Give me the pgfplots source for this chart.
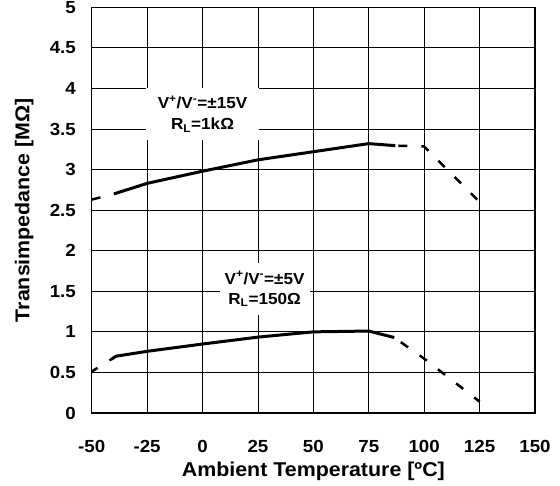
\documentclass[border=0pt]{standalone}
\usepackage{fontspec}
\setmainfont{Liberation Sans}[FakeStretch=1.07]
\usepackage{pgfplots}
\pgfplotsset{compat=1.18}
\begin{document}
\begin{tikzpicture}
\begin{axis}[
  scale only axis,
  width=443.3pt, height=405.7pt,
  at={(0,0)}, anchor=south west,
  xmin=-50, xmax=150, ymin=0, ymax=5,
  xtick={-50,-25,0,25,50,75,100,125,150},
  xticklabels={-50,-25,0,25,50,75,100,125,150},
  ytick={0,0.5,1,1.5,2,2.5,3,3.5,4,4.5,5},
  yticklabels={0,0.5,1,1.5,2,2.5,3,3.5,4,4.5,5},
  major tick length=0pt,
  grid=major,
  major grid style={black, line width=0.8pt},
  axis line style={black, line width=1.2pt},
  every tick label/.append style={font=\bfseries\fontsize{17.5}{20}\selectfont},
  xticklabel style={anchor=base, yshift=-39.3pt, inner sep=0pt},
  yticklabel style={anchor=east, xshift=-15.7pt, inner sep=0pt},
  xlabel={Ambient Temperature [ºC]},
  ylabel={Transimpedance [MΩ]},
  label style={font=\bfseries\fontsize{20}{24}\selectfont},
  xlabel style={at={(axis description cs:0.5,-0.1553)}, anchor=base, inner sep=0pt},
  ylabel style={at={(axis description cs:-0.1408,0.5)}, anchor=base, rotate=0, inner sep=0pt},
]
% upper curve
\addplot[black, line width=2.5pt, dash pattern=on 9pt off 14pt] coordinates {(-50,2.63) (-40,2.70)};
\addplot[black, line width=3pt] coordinates {(-40,2.70) (-25,2.83) (0,2.98) (25,3.12) (50,3.22) (75,3.32) (87,3.295)};
\addplot[black, line width=2.5pt, dash pattern=on 9pt off 14pt, dash phase=-3pt] coordinates {(87,3.295) (100,3.285) (125,2.60)};
% lower curve
\addplot[black, line width=2.5pt, dash pattern=on 7pt off 14pt] coordinates {(-50,0.51) (-41,0.665)};
\addplot[black, line width=3pt] coordinates {(-41,0.665) (-39,0.70) (-25,0.76) (0,0.85) (25,0.935) (50,1.0) (75,1.01) (86.5,0.93)};
\addplot[black, line width=2.5pt, dash pattern=on 9pt off 14pt, dash phase=-8pt] coordinates {(86.5,0.93) (100,0.67) (125,0.14)};
% annotations
\node[fill=white, align=center, inner xsep=12pt, inner ysep=0pt, minimum height=52pt,
      font=\bfseries\fontsize{16}{21}\selectfont] at (axis cs:0,3.685)
  {V\textsuperscript{+}/V\textsuperscript{-}=±15V\\R\textsubscript{L}=1kΩ};
\node[fill=white, align=center, inner xsep=5pt, inner ysep=0pt, minimum height=52pt,
      font=\bfseries\fontsize{16}{20}\selectfont] at (axis cs:28,1.528)
  {V\textsuperscript{+}/V\textsuperscript{-}=±5V\\R\textsubscript{L}=150Ω};
\end{axis}
\pgfresetboundingbox
\path (-91.7pt,-73pt) rectangle (468.3pt,413pt);
\end{tikzpicture}
\end{document}
